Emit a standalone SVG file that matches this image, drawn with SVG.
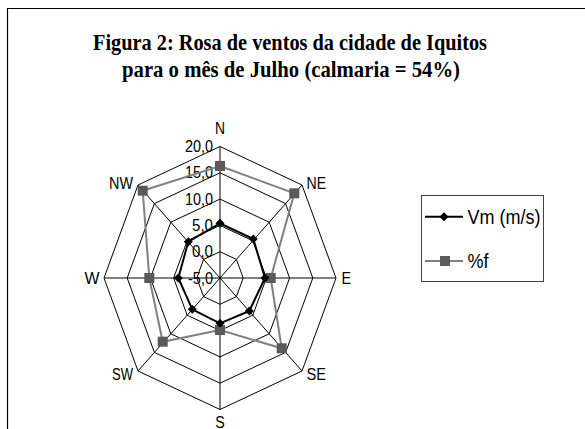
<svg xmlns="http://www.w3.org/2000/svg" width="585" height="429" viewBox="0 0 585 429">
<style>
.title{font-family:"Liberation Serif","Times New Roman",serif;font-weight:bold;font-size:24px;fill:#000}
.lbl{font-family:"Liberation Sans",Arial,sans-serif;font-size:16px;fill:#000}
.leg{font-family:"Liberation Sans",Arial,sans-serif;font-size:20px;fill:#000}
.ring{fill:none;stroke:#000;stroke-width:1}
.spoke{stroke:#000;stroke-width:1}
.vm{fill:none;stroke:#000;stroke-width:2;stroke-linejoin:round}
.pf{fill:none;stroke:#808080;stroke-width:2}
.dia{fill:#000}
.sq{fill:#5a5a5a}
</style>
<defs>
<path id="dm" d="M0,-4.5 L4.5,0 L0,4.5 L-4.5,0 Z"/>
<rect id="sqm" x="-5" y="-5" width="10" height="10"/>
</defs>
<rect x="0" y="0" width="585" height="429" fill="#fff"/>
<path d="M7.5,440 V8.5 H585" fill="none" stroke="#000" stroke-width="1.2"/>
<g id="title">
<text class="title" x="290" y="50" text-anchor="middle" textLength="394" lengthAdjust="spacingAndGlyphs">Figura 2: Rosa de ventos da cidade de Iquitos</text>
<text class="title" x="291" y="77" text-anchor="middle" textLength="338" lengthAdjust="spacingAndGlyphs">para o mês de Julho  (calmaria = 54%)</text>
</g>
<g id="grid">
<polygon class="ring" points="220,251.7 236.4,259.4 243.2,278 236.4,296.6 220,304.3 203.6,296.6 196.8,278 203.6,259.4"/>
<polygon class="ring" points="220,225.4 252.8,240.8 266.4,278 252.8,315.2 220,330.6 187.2,315.2 173.6,278 187.2,240.8"/>
<polygon class="ring" points="220,199.1 269.2,222.2 289.6,278 269.2,333.8 220,356.9 170.8,333.8 150.4,278 170.8,222.2"/>
<polygon class="ring" points="220,172.8 285.6,203.6 312.8,278 285.6,352.4 220,383.2 154.4,352.4 127.2,278 154.4,203.6"/>
<polygon class="ring" points="220,146.5 302,185 336,278 302,371 220,409.5 138,371 104,278 138,185"/>
<line class="spoke" x1="220" y1="278" x2="220" y2="146.5"/>
<line class="spoke" x1="220" y1="278" x2="302" y2="185"/>
<line class="spoke" x1="220" y1="278" x2="336" y2="278"/>
<line class="spoke" x1="220" y1="278" x2="302" y2="371"/>
<line class="spoke" x1="220" y1="278" x2="220" y2="409.5"/>
<line class="spoke" x1="220" y1="278" x2="138" y2="371"/>
<line class="spoke" x1="220" y1="278" x2="104" y2="278"/>
<line class="spoke" x1="220" y1="278" x2="138" y2="185"/>
</g>
<g id="ticks">
<text class="lbl" x="213" y="152" text-anchor="end" textLength="28" lengthAdjust="spacingAndGlyphs">20,0</text>
<text class="lbl" x="213" y="178.3" text-anchor="end" textLength="28" lengthAdjust="spacingAndGlyphs">15,0</text>
<text class="lbl" x="213" y="204.6" text-anchor="end" textLength="28" lengthAdjust="spacingAndGlyphs">10,0</text>
<text class="lbl" x="213" y="230.9" text-anchor="end" textLength="21" lengthAdjust="spacingAndGlyphs">5,0</text>
<text class="lbl" x="213" y="257.2" text-anchor="end" textLength="21" lengthAdjust="spacingAndGlyphs">0,0</text>
<text class="lbl" x="213" y="283.5" text-anchor="end" textLength="25" lengthAdjust="spacingAndGlyphs">-5,0</text>
</g>
<g id="axis-labels">
<text class="lbl" x="220" y="133.5" text-anchor="middle" textLength="10" lengthAdjust="spacingAndGlyphs">N</text>
<text class="lbl" x="306.5" y="188.5" textLength="19.5" lengthAdjust="spacingAndGlyphs">NE</text>
<text class="lbl" x="341.5" y="284" textLength="9.5" lengthAdjust="spacingAndGlyphs">E</text>
<text class="lbl" x="306.5" y="380" textLength="19.5" lengthAdjust="spacingAndGlyphs">SE</text>
<text class="lbl" x="220" y="427.5" text-anchor="middle" textLength="9.5" lengthAdjust="spacingAndGlyphs">S</text>
<text class="lbl" x="133" y="380" text-anchor="end" textLength="21" lengthAdjust="spacingAndGlyphs">SW</text>
<text class="lbl" x="99.5" y="284" text-anchor="end" textLength="15" lengthAdjust="spacingAndGlyphs">W</text>
<text class="lbl" x="133" y="188.5" text-anchor="end" textLength="24" lengthAdjust="spacingAndGlyphs">NW</text>
</g>
<g id="series-pf">
<polygon class="pf" points="220,166 294.3,193.3 270.7,278 281.7,348.3 220,330 162.7,341.7 149.3,278 142.7,190.7"/>
<use href="#sqm" class="sq" x="220" y="166"/>
<use href="#sqm" class="sq" x="294.3" y="193.3"/>
<use href="#sqm" class="sq" x="270.7" y="278"/>
<use href="#sqm" class="sq" x="281.7" y="348.3"/>
<use href="#sqm" class="sq" x="220" y="330"/>
<use href="#sqm" class="sq" x="162.7" y="341.7"/>
<use href="#sqm" class="sq" x="149.3" y="278"/>
<use href="#sqm" class="sq" x="142.7" y="190.7"/>
</g>
<g id="series-vm">
<polygon class="vm" points="220,223.3 253.3,239 265,278 249.3,311 220,323.3 192.3,309.3 178.3,278 188.3,241.7"/>
<use href="#dm" class="dia" x="220" y="223.3"/>
<use href="#dm" class="dia" x="253.3" y="239"/>
<use href="#dm" class="dia" x="265" y="278"/>
<use href="#dm" class="dia" x="249.3" y="311"/>
<use href="#dm" class="dia" x="220" y="323.3"/>
<use href="#dm" class="dia" x="192.3" y="309.3"/>
<use href="#dm" class="dia" x="178.3" y="278"/>
<use href="#dm" class="dia" x="188.3" y="241.7"/>
</g>
<g id="legend">
<rect x="421.5" y="195.5" width="122" height="86" fill="#fff" stroke="#404040" stroke-width="1"/>
<line x1="425" y1="216.7" x2="463" y2="216.7" stroke="#000" stroke-width="2"/>
<use href="#dm" class="dia" x="444" y="216.7"/>
<text class="leg" x="467.5" y="224" textLength="73" lengthAdjust="spacingAndGlyphs">Vm (m/s)</text>
<line x1="425" y1="261" x2="463" y2="261" stroke="#808080" stroke-width="2"/>
<use href="#sqm" class="sq" x="445" y="261"/>
<text class="leg" x="467.5" y="268" textLength="21" lengthAdjust="spacingAndGlyphs">%f</text>
</g>
</svg>
